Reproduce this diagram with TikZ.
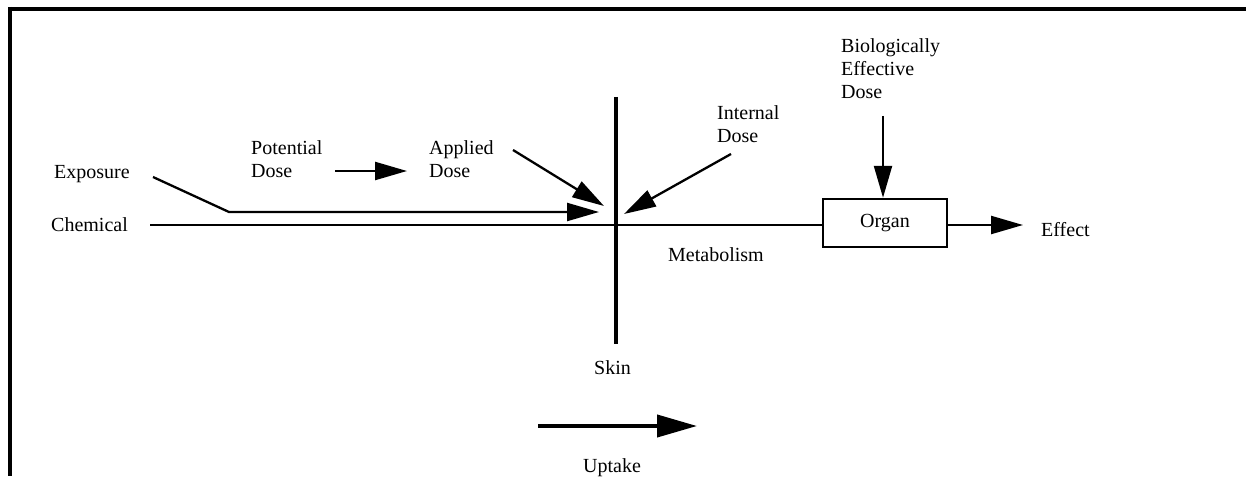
\documentclass[tikz,border=0pt]{standalone}
\usepackage{fontspec}
\setmainfont{Liberation Serif}
\usetikzlibrary{arrows.meta}
\begin{document}
\begin{tikzpicture}[x=1pt,y=-1pt,
  lbl/.style={inner sep=0pt, anchor=west, text height=13.2pt, text depth=0pt, font=\fontsize{20}{23}\selectfont},
  mlbl/.style={inner sep=0pt, anchor=north west, align=left, font=\fontsize{20}{23}\selectfont},
  thin/.style={line width=2.3pt},
  thick/.style={line width=4pt},
  tip/.style={-{Triangle[length=32pt,width=18pt]}},
  bigtip/.style={-{Triangle[length=40pt,width=22pt]}},
  organbox/.style={draw, line width=2.5pt, minimum width=124pt, minimum height=48pt, inner sep=0pt, font=\fontsize{20}{23}\selectfont}
]
\useasboundingbox (0,0) rectangle (1246,476);
% frame
\coordinate (ftr) at (1246,9);
\coordinate (fbl) at (10,476);
\draw[line width=4pt] (ftr) -- (8,9);
\draw[line width=4pt] (10,7) -- (fbl);

% labels
\node[lbl] (expo) at (54,172) {Exposure};
\node[lbl] (chem) at (51,225) {Chemical};
\node[mlbl] (pot) at (251,140.5) {Potential\\Dose};
\node[mlbl] (app) at (429,140.5) {Applied\\Dose};
\node[mlbl] (int) at (717,105.5) {Internal\\Dose};
\node[mlbl] (bio) at (841,38.5) {Biologically\\Effective\\Dose};
\node[lbl] (metab) at (668,255) {Metabolism};
\node[lbl] (effect) at (1041,230) {Effect};
\node[lbl] (skin) at (594,368) {Skin};
\node[lbl] (uptake) at (583,466) {Uptake};
\node[organbox] (organ) at (885,223) {Organ};

% coordinates
\coordinate (chemstart) at (150,225);
\coordinate (expostart) at (153,177);
\coordinate (expobend) at (229,212);
\coordinate (expoend) at (599,212);
\coordinate (potstart) at (335,171);
\coordinate (potend) at (407,171);
\coordinate (appstart) at (513,150);
\coordinate (append) at (604,206);
\coordinate (intstart) at (731,154);
\coordinate (intend) at (624,214);
\coordinate (biostart) at (883,116);
\coordinate (skintop) at (616,97);
\coordinate (skinbot) at (616,344);
\coordinate (effend) at (1023,225);
\coordinate (upstart) at (538,426);
\coordinate (upend) at (697,426);

% connectors
\draw[thin] (chemstart) -- (chemstart -| organ.west);
\draw[thin, tip] (expostart) -- (expobend) -- (expoend);
\draw[thin, tip] (potstart) -- (potend);
\draw[thin, tip] (appstart) -- (append);
\draw[thin, tip] (intstart) -- (intend);
\draw[thin, tip] (biostart) -- (biostart |- organ.north);
\draw[thin, tip] (effend -| organ.east) -- (effend);
\draw[thick] (skintop) -- (skinbot);
\draw[thick, bigtip] (upstart) -- (upend);
\end{tikzpicture}
\end{document}
